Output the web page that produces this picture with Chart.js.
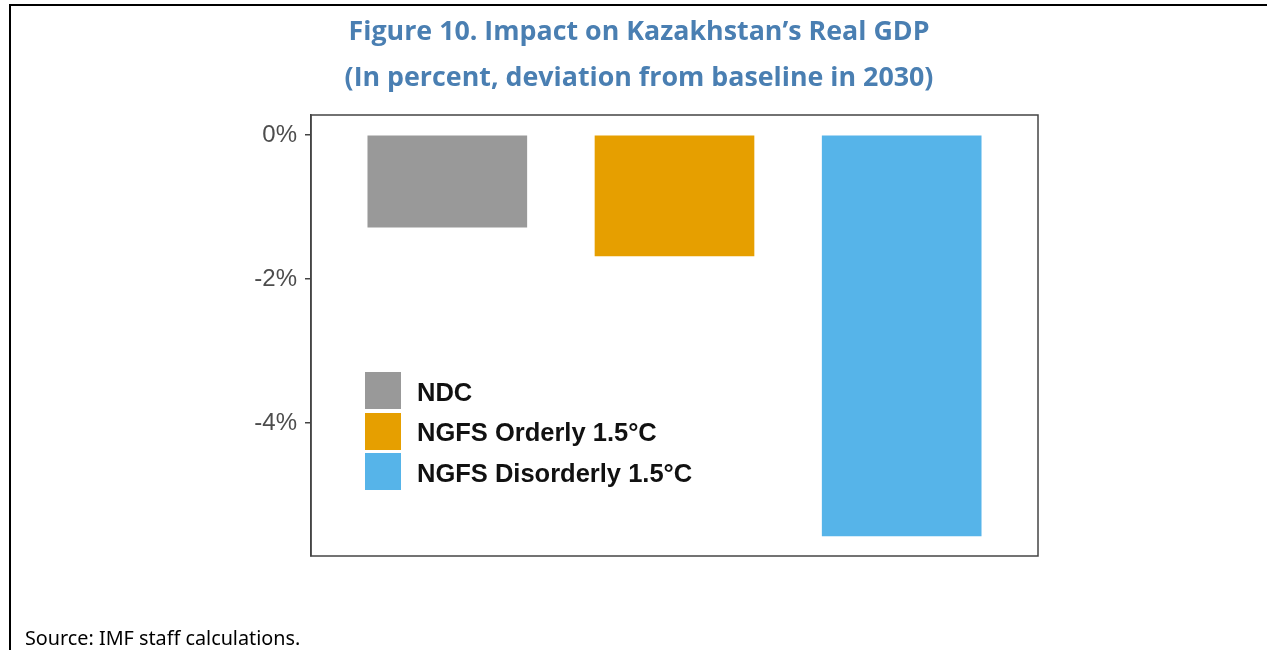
<!DOCTYPE html>
<html lang="en">
<head>
    <meta charset="UTF-8">
    <title>Impact on Kazakhstan's Real GDP</title>
    <script src="https://cdn.jsdelivr.net/npm/chart.js"></script>
    <style>
        html, body { margin: 0; padding: 0; background: #fff; overflow: hidden; }
        #page { position: relative; width: 1267px; height: 650px; }
        #frame { position: absolute; left: 9px; top: 4px; width: 1300px; height: 700px;
                 border-left: 2px solid #000; border-top: 2px solid #000; }
        #chart { position: absolute; left: 0; top: 0; }
        .title { position: absolute; left: 0; width: 1278px; text-align: center;
                 font-family: "Open Sans", "Noto Sans", sans-serif; font-weight: 700;
                 font-size: 26.8px; color: #4a7fb2; white-space: nowrap; }
        #source { position: absolute; left: 25px; top: 624px; font-family: "Noto Sans", "Open Sans", sans-serif;
                  font-size: 19.8px; color: #000; white-space: nowrap; }
        #legend { position: absolute; left: 365px; top: 372px; font-family: "Liberation Sans", Arial, sans-serif;
                  font-weight: bold; font-size: 25.5px; color: #111; }
        #legend .item { display: flex; align-items: center; height: 40.5px; }
        #legend .key { width: 36px; height: 37px; margin-right: 16px; align-self: flex-start; }
    </style>
</head>
<body>
<div id="page">
    <div id="frame"></div>
    <canvas id="chart" width="1267" height="650"></canvas>
    <div class="title" style="top: 11px;">Figure 10. Impact on Kazakhstan’s Real GDP</div>
    <div class="title" style="top: 57px;">(In percent, deviation from baseline in 2030)</div>
    <div id="legend"></div>
    <div id="source">Source: IMF staff calculations.</div>
</div>

<script>
    // scenarios and their impact (percent deviation from baseline, 2030)
    const scenarios = ['NDC', 'NGFS Orderly 1.5°C', 'NGFS Disorderly 1.5°C'];
    const impact = [-1.28, -1.68, -5.57];
    const barColors = ['#999999', '#E69F00', '#56B4E9'];
    const yTicks = [0, -2, -4];

    // legend (html, inside the plot panel)
    const legend = document.getElementById('legend');
    scenarios.forEach((s, i) => {
        legend.innerHTML += `<div class="item"><div class="key" style="background:${barColors[i]}"></div><span>${s}</span></div>`;
    });

    // frame around the plot panel
    const panelBox = {
        id: 'panelBox',
        afterDraw(chart) {
            const a = chart.chartArea;
            const c = chart.ctx;
            c.save();
            c.strokeStyle = '#444';
            c.lineWidth = 1.5;
            c.strokeRect(a.left, a.top, a.right - a.left, a.bottom - a.top);
            c.restore();
        }
    };

    const ctx = document.getElementById('chart').getContext('2d');
    new Chart(ctx, {
        type: 'bar',
        data: {
            datasets: [{
                data: impact.map((v, i) => ({ x: i, y: v })),
                backgroundColor: barColors,
                borderWidth: 0,
                barThickness: 159
            }]
        },
        plugins: [panelBox],
        options: {
            responsive: false,
            animation: false,
            layout: { padding: { left: 231, top: 115, right: 229, bottom: 94 } },
            plugins: {
                legend: { display: false },
                title: { display: false },
                tooltip: { enabled: false }
            },
            scales: {
                x: {
                    type: 'linear',
                    display: false,
                    offset: false,
                    min: -0.6,
                    max: 2.6,
                    ticks: { stepSize: 1, includeBounds: false }
                },
                y: {
                    min: -5.85,
                    max: 0.28,
                    afterFit: s => { s.width = 80; },
                    border: { display: true, color: '#444', width: 1.5 },
                    grid: { drawOnChartArea: false, drawTicks: true, tickLength: 6, color: '#444', lineWidth: 1.5 },
                    afterBuildTicks: s => { s.ticks = yTicks.map(v => ({ value: v })); },
                    ticks: {
                        padding: 8,
                        color: '#4d4d4d',
                        font: { family: '"Liberation Sans", Arial, sans-serif', size: 24 },
                        callback: v => v + '%'
                    }
                }
            }
        }
    });
</script>
</body>
</html>
